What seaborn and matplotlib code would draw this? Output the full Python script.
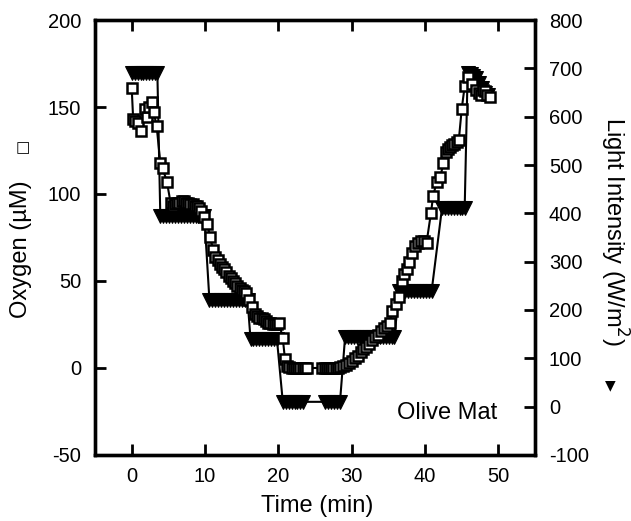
import matplotlib
matplotlib.use('Agg')
import matplotlib.pyplot as plt
import seaborn as sns
import pandas as pd

# --- oxygen profile (open squares), time in min, oxygen in uM ---
oxy_time = [0.0, 0.2, 0.5, 0.9, 1.3, 1.8, 2.1, 2.4, 2.7, 3.0, 3.4, 3.9, 4.2, 4.8, 5.3,
            5.6, 5.9, 6.2, 6.5, 6.8, 7.1, 7.4, 7.7, 8.0, 8.3, 8.6, 8.9, 9.2, 9.5,
            9.9, 10.3, 10.7, 11.1,
            11.4, 11.7, 12.0, 12.3, 12.6, 12.9, 13.2, 13.5, 13.8, 14.1, 14.4, 14.7, 15.0, 15.3, 15.6,
            16.0, 16.4, 16.8,
            17.1, 17.4, 17.7, 18.0, 18.3, 18.6, 18.9, 19.2, 19.5, 19.8, 20.1,
            20.6, 20.9,
            21.2, 21.5, 21.8, 22.1, 22.4, 22.7, 23.0, 23.3, 23.6, 23.9,
            26.0, 26.3, 26.6, 26.9, 27.2, 27.5, 27.8, 28.1, 28.4,
            28.8, 29.2, 29.6, 30.0, 30.4, 30.8, 31.2, 31.6, 32.0, 32.4, 32.8, 33.2, 33.6, 34.0, 34.4, 34.8, 35.2,
            35.5, 36.0, 36.4, 36.8, 37.1, 37.5, 37.8, 38.2, 38.6, 39.0, 39.4, 39.8, 40.2,
            40.8, 41.1, 41.6, 42.1, 42.5,
            42.8, 43.1, 43.4, 43.7, 44.0, 44.3, 44.6,
            45.0, 45.4, 45.9, 46.4,
            47.0, 47.3, 47.6, 47.9, 48.2, 48.5, 48.8]
oxy_um = [161, 143, 142, 141, 136, 149, 144, 150, 153, 147, 139, 118, 115, 107, 95,
          93, 94, 95, 95, 96, 96, 95, 95, 94, 94, 93, 93, 92, 90,
          87, 83, 75, 68,
          64, 62, 60, 58, 57, 55, 53, 52, 50, 49, 47, 46, 45, 44, 43,
          39, 35, 31,
          30, 29, 29, 28, 27, 26, 26, 25, 25, 25, 26,
          17, 5,
          1, 0.5, 0, 0, 0, 0, 0, 0, 0, 0,
          0, 0, 0, 0, 0, 0, 0, 0, 0.5,
          1, 2, 3, 4, 6, 7, 9, 11, 12, 14, 16, 18, 19, 21, 23, 24, 26,
          33, 37, 41, 50, 54, 57, 61, 66, 70, 72, 73, 73, 72,
          89, 99, 107, 110, 118,
          124, 126, 127, 128, 129, 130, 131,
          149, 162, 167, 163,
          160, 158, 157, 160, 159, 157, 156]

# --- light intensity (filled triangles), W/m2 ---
light_time = [0.0, 0.4, 0.8, 1.2, 1.6, 2.0, 2.4, 2.8, 3.2, 3.5,
              3.9, 4.3, 4.7, 5.1, 5.5, 5.9, 6.3, 6.7, 7.1, 7.5, 7.9, 8.3, 8.7, 9.1, 9.5, 9.9,
              10.6, 11.0, 11.4, 11.8, 12.2, 12.6, 13.0, 13.4, 13.8, 14.2, 14.6, 15.0, 15.4, 15.8,
              16.2, 16.6, 17.0, 17.4, 17.8, 18.2, 18.6, 19.0, 19.4, 19.8,
              20.6, 21.0, 21.4, 21.8, 22.2, 22.6, 23.0, 23.4,
              26.4, 26.8, 27.2, 27.6, 28.0, 28.4,
              29.1, 29.5, 29.9, 30.3, 30.7, 31.1, 31.5, 31.9, 32.3, 32.7, 33.1, 33.5, 33.9, 34.3, 34.7, 35.1, 35.5, 35.8,
              36.5, 36.9, 37.3, 37.7, 38.1, 38.5, 38.9, 39.3, 39.7, 40.1, 40.5, 40.9,
              42.3, 42.7, 43.1, 43.5, 43.9, 44.3, 44.7, 45.1, 45.4,
              45.8, 46.2, 46.6, 47.0, 47.4, 47.8, 48.2, 48.6]
light_wm2 = [690, 690, 690, 690, 690, 690, 690, 690, 690, 690,
             395, 395, 395, 395, 395, 395, 395, 395, 395, 395, 395, 395, 395, 395, 395, 395,
             220, 220, 220, 220, 220, 220, 220, 220, 220, 220, 220, 220, 220, 220,
             140, 140, 140, 140, 140, 140, 140, 140, 140, 140,
             10, 10, 10, 10, 10, 10, 10, 10,
             10, 10, 10, 10, 10, 10,
             145, 145, 145, 145, 145, 145, 145, 145, 145, 145, 145, 145, 145, 145, 145, 145, 145, 145,
             240, 240, 240, 240, 240, 240, 240, 240, 240, 240, 240, 240,
             410, 410, 410, 410, 410, 410, 410, 410, 410,
             690, 688, 685, 680, 670, 660, 650, 645]

x_ticks = [0, 10, 20, 30, 40, 50]
oxy_ticks = [-50, 0, 50, 100, 150, 200]
light_ticks = [-100, 0, 100, 200, 300, 400, 500, 600, 700, 800]

sns.set_style('ticks')
plt.rcParams['font.family'] = ['Liberation Sans', 'DejaVu Sans']
plt.rcParams['axes.unicode_minus'] = False
plt.rcParams['font.size'] = 14.5
for key in ['text.color', 'axes.labelcolor', 'xtick.color', 'ytick.color', 'axes.edgecolor']:
    plt.rcParams[key] = 'black'

df_oxy = pd.DataFrame({'time': oxy_time, 'oxygen': oxy_um})
df_light = pd.DataFrame({'time': light_time, 'light': light_wm2})

fig = plt.figure(figsize=(6.31, 5.21), dpi=100)
ax = fig.add_axes([0.1506, 0.1267, 0.6974, 0.8349])
ax2 = ax.twinx()

sns.lineplot(data=df_light, x='time', y='light', ax=ax2, color='black', lw=1.5,
             marker='v', markersize=10, markerfacecolor='black', markeredgecolor='black',
             estimator=None, sort=False)
sns.lineplot(data=df_oxy, x='time', y='oxygen', ax=ax, color='black', lw=1.5,
             marker='s', markersize=7, markerfacecolor='white', markeredgecolor='black',
             markeredgewidth=1.8, estimator=None, sort=False)

# oxygen on top of light
ax.set_zorder(ax2.get_zorder() + 1)
ax.patch.set_visible(False)

ax.set_xlim(-5, 55)
ax.set_ylim(-50, 200)
ax2.set_ylim(-100, 800)
ax.set_xticks(x_ticks)
ax.set_yticks(oxy_ticks)
ax2.set_yticks(light_ticks)

for a in (ax, ax2):
    for s in a.spines.values():
        s.set_linewidth(2.4)
        s.set_visible(True)
        s.set_color('black')
ax.tick_params(axis='x', direction='in', length=8, width=2, top=True, bottom=True, pad=9, labelsize=14.5)
ax.tick_params(axis='y', direction='in', length=8, width=2, left=True, right=False, pad=10, labelsize=14.5)
ax2.tick_params(axis='y', direction='in', length=8, width=2, right=True, left=False, pad=10, labelsize=14.5)

ax.set_xlabel('Time (min)', fontsize=17)
ax.xaxis.set_label_coords(0.505, -0.092)
ax.set_ylabel('Oxygen (µM)', fontsize=17)
ax.yaxis.set_label_coords(-0.143, 0.474)
ax2.set_ylabel('Light Intensity (W/m$^2$)', fontsize=17, rotation=-90, va='center')
ax2.yaxis.set_label_coords(1.18, 0.513)

# series symbols next to the axis titles
fig.text(23 / 631, 1 - 148 / 521, '□', family='DejaVu Sans', fontsize=11, fontweight='bold',
         ha='center', va='center')
fig.text(610 / 631, 1 - 385 / 521, '▼', family='DejaVu Sans', fontsize=10,
         ha='center', va='center')

ax.text(0.80, 0.097, 'Olive Mat', transform=ax.transAxes, ha='center', va='center', fontsize=17)

fig.savefig('out.png', dpi=100)
